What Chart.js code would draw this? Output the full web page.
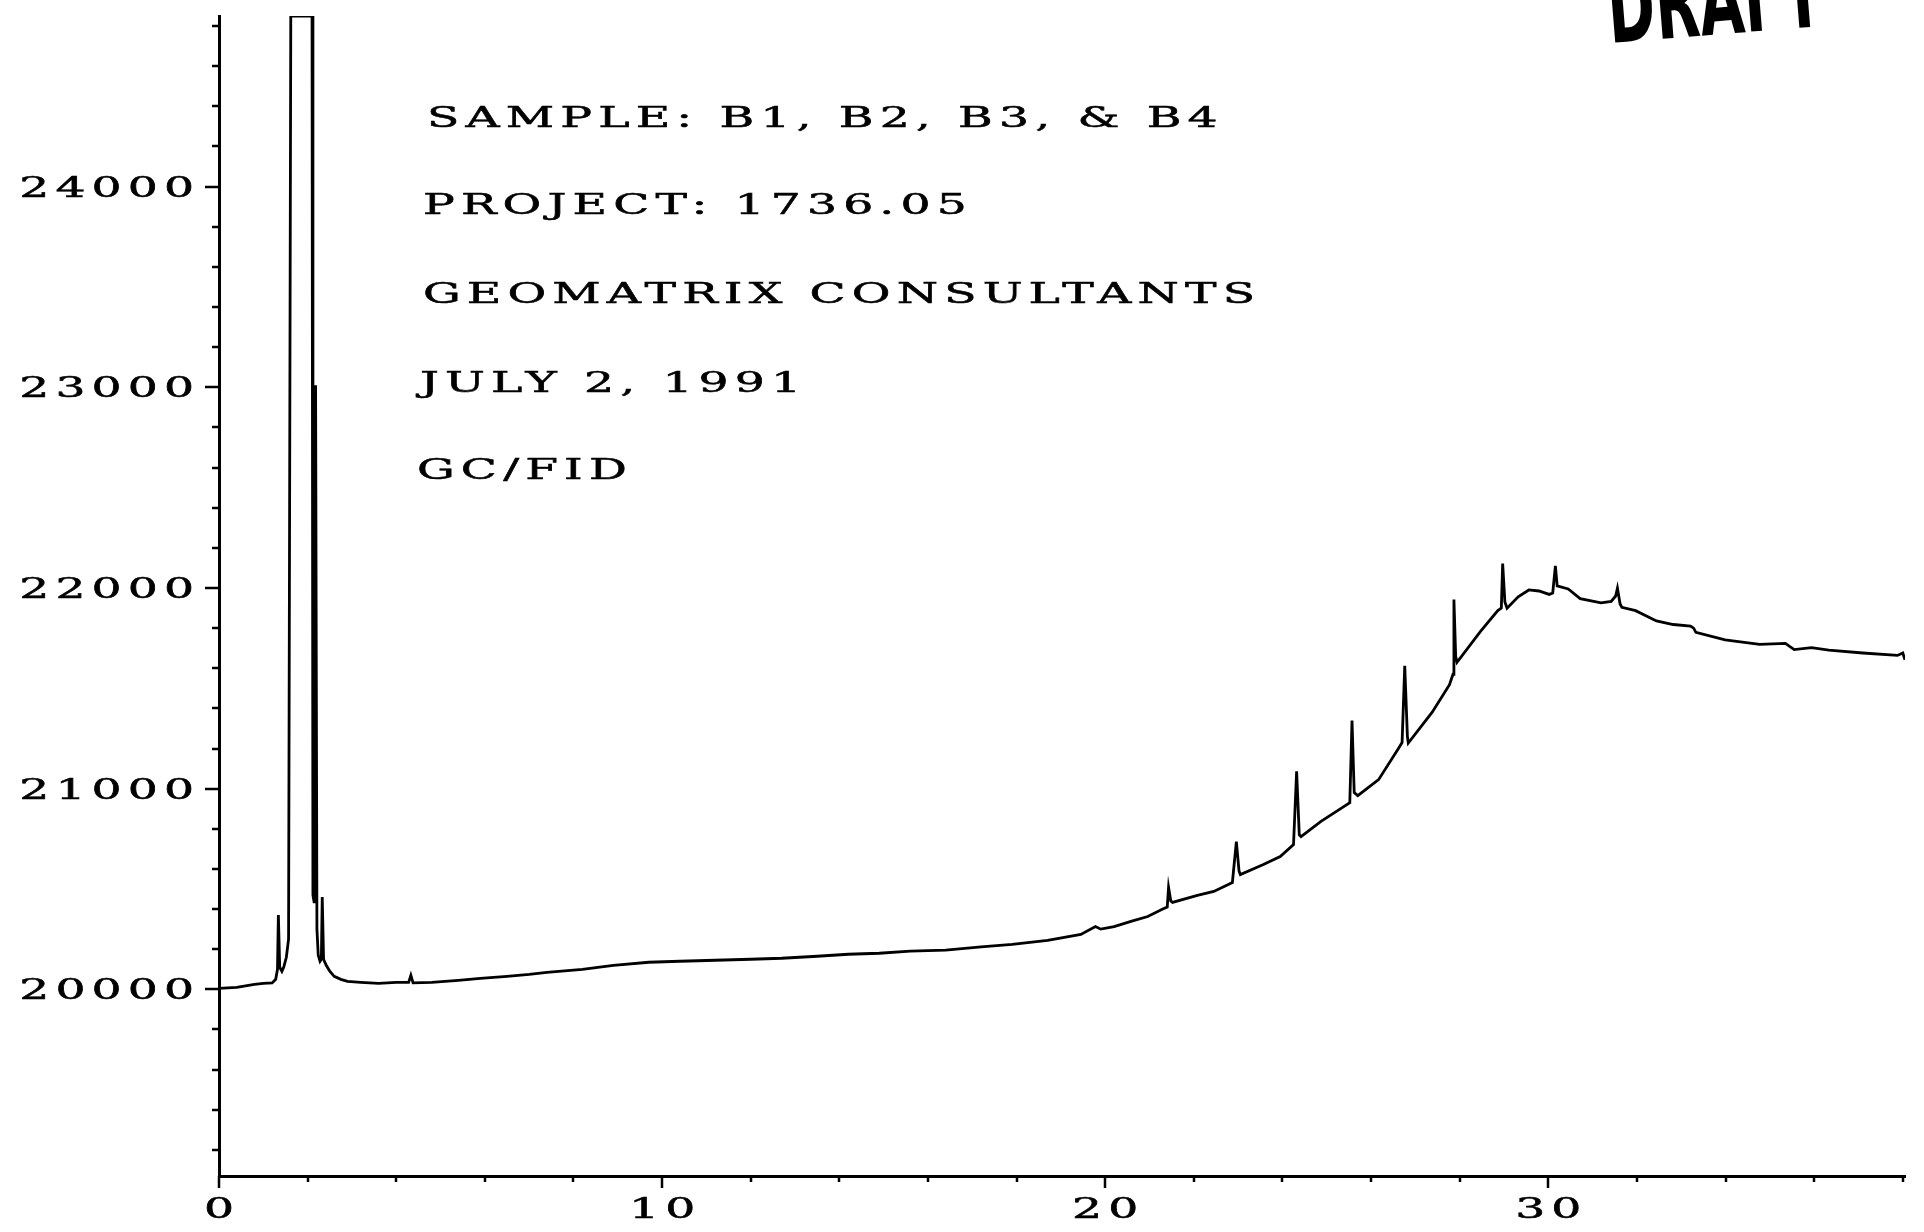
<!DOCTYPE html>
<html>
<head>
    <title>GC/FID chromatogram</title>
    <script src="https://cdn.jsdelivr.net/npm/chart.js"></script>
    <style>
        html, body { margin: 0; padding: 0; background: white; }
        #wrap { width: 1924px; height: 1232px; }
    </style>
</head>
<body>
    <div id="wrap"><canvas id="chart" width="1924" height="1232"></canvas></div>

    <script>
        // retention time (min) and detector signal
        const times = [
            0.00, 0.40, 0.80, 1.00, 1.20, 1.28, 1.32, 1.34, 1.37, 1.42, 1.46, 1.52, 1.57, 1.62,
            2.10, 2.12, 2.15, 2.18, 2.21, 2.24, 2.28, 2.31, 2.33, 2.36, 2.42, 2.50, 2.60, 2.75,
            2.90, 3.20, 3.60, 4.00, 4.28, 4.33, 4.38, 4.80, 5.40, 5.90, 6.50, 7.00, 7.40, 8.20,
            8.90, 9.70, 10.40, 11.20, 12.00, 12.70, 13.50, 14.20, 14.90, 15.60, 16.40, 17.20,
            17.90, 18.70, 19.45, 19.78, 19.90, 20.20, 20.60, 20.96, 21.30, 21.40, 21.43, 21.48,
            21.52, 22.08, 22.45, 22.87, 22.96, 23.02, 23.05, 23.57, 23.95, 24.25, 24.32, 24.38,
            24.42, 24.87, 25.34, 25.52, 25.57, 25.62, 25.70, 26.17, 26.60, 26.70, 26.76, 26.82,
            26.84, 27.38, 27.77, 27.85, 27.87, 27.91, 27.94, 28.47, 28.86, 28.94, 28.97, 29.02,
            29.07, 29.32, 29.56, 29.79, 30.02, 30.10, 30.16, 30.20, 30.45, 30.72, 31.19, 31.42,
            31.52, 31.56, 31.62, 31.66, 31.97, 32.44, 32.82, 33.21, 33.28, 33.33, 33.99, 34.77,
            35.35, 35.55, 35.94, 36.33, 37.10, 37.88, 38.00, 38.05
        ];
        const signal = [
            20005, 20010, 20025, 20030, 20032, 20050, 20100, 20370, 20110, 20090, 20110, 20160, 20250, 24850,
            24850, 20470, 20430, 23010, 20300, 20170, 20140, 20150, 20460, 20150, 20120, 20090, 20065, 20050,
            20040, 20035, 20030, 20035, 20035, 20070, 20032, 20035, 20045, 20055, 20065, 20075, 20085, 20100,
            20120, 20135, 20140, 20145, 20150, 20155, 20165, 20175, 20180, 20190, 20195, 20212,
            20224, 20244, 20274, 20313, 20300, 20313, 20340, 20363, 20400, 20410, 20508, 20440,
            20433, 20468, 20488, 20532, 20736, 20590, 20572, 20622, 20662, 20721, 21086, 20770,
            20761, 20837, 20904, 20930, 21340, 20980, 20965, 21045, 21194, 21230, 21612, 21260,
            21227, 21381, 21518, 21570, 21942, 21660, 21630, 21784, 21887, 21900, 22122, 21930,
            21899, 21956, 21990, 21985, 21968, 21975, 22110, 22010, 21995, 21947, 21926, 21933,
            21960, 21999, 21920, 21904, 21887, 21836, 21818, 21810, 21800, 21779, 21741, 21719,
            21724, 21693, 21703, 21690, 21676, 21664, 21676, 21642
        ];

        const yTickValues = [20000, 21000, 22000, 23000, 24000];
        const yTickLabels = ['20000', '21000', '22000', '23000', '24000'];
        const xTickValues = [0, 10, 20, 30];
        const xTickLabels = ['0', '10', '20', '30'];

        const notes = [
            'SAMPLE: B1, B2, B3, & B4',
            'PROJECT: 1736.05',
            'GEOMATRIX CONSULTANTS',
            'JULY 2, 1991',
            'GC/FID'
        ];

        // extended printer-style lettering
        const SX = 1.75;
        const SPACING = 3.5;
        function wideText(ctx, str, x, y, align) {
            ctx.save();
            ctx.font = '27px "DejaVu Serif"';
            ctx.letterSpacing = SPACING + 'px';
            ctx.textAlign = 'left';
            ctx.textBaseline = 'alphabetic';
            const w = (ctx.measureText(str).width - SPACING) * SX;
            let x0 = x;
            if (align === 'right') x0 = x - w;
            if (align === 'center') x0 = x - w / 2;
            ctx.translate(x0, y + 10);
            ctx.scale(SX, 1);
            ctx.fillStyle = '#000';
            ctx.strokeStyle = '#000';
            ctx.lineWidth = 0.5;
            ctx.fillText(str, 0, 0);
            ctx.strokeText(str, 0, 0);
            ctx.restore();
        }

        const axisMarks = {
            id: 'axisMarks',
            afterDraw(chart) {
                const ctx = chart.ctx;
                const xs = chart.scales.x, ys = chart.scales.y;
                const area = chart.chartArea;
                ctx.save();
                ctx.strokeStyle = '#000';
                ctx.lineWidth = 2.5;
                ctx.beginPath();
                for (let v = 19200; v <= 24800; v += 200) {
                    const py = Math.round(ys.getPixelForValue(v));
                    const len = v % 1000 === 0 ? 14 : 7;
                    ctx.moveTo(area.left - len, py);
                    ctx.lineTo(area.left, py);
                }
                for (let v = 0; v <= 38; v += 2) {
                    const px = Math.round(xs.getPixelForValue(v));
                    const len = v % 10 === 0 ? 12 : 6;
                    ctx.moveTo(px, area.bottom);
                    ctx.lineTo(px, area.bottom + len);
                }
                ctx.stroke();
                ctx.restore();

                yTickValues.forEach((v, i) => {
                    wideText(ctx, yTickLabels[i], area.left - 25, ys.getPixelForValue(v), 'right');
                });
                xTickValues.forEach((v, i) => {
                    wideText(ctx, xTickLabels[i], xs.getPixelForValue(v), 1208, 'center');
                });

                // header block
                const noteX = [427, 423, 423, 420, 417];
                const noteY = [117, 204, 293, 382, 469];
                notes.forEach((t, i) => wideText(ctx, t, noteX[i], noteY[i], 'left'));

                // stamp, cut by the top edge
                ctx.save();
                ctx.font = 'bold 100px "DejaVu Sans Condensed", "DejaVu Sans", sans-serif';
                ctx.textBaseline = 'alphabetic';
                const dw = ctx.measureText('DRAFT').width;
                ctx.translate(1610, 43);
                ctx.rotate(-0.08);
                ctx.scale(215 / dw, 1);
                ctx.fillStyle = '#000';
                ctx.fillText('DRAFT', 0, 0);
                ctx.restore();
            }
        };

        new Chart(document.getElementById('chart').getContext('2d'), {
            type: 'line',
            data: {
                datasets: [{
                    data: times.map((t, i) => ({ x: t, y: signal[i] })),
                    borderColor: '#000',
                    borderWidth: 2.8,
                    pointRadius: 0,
                    tension: 0,
                    fill: false
                }]
            },
            options: {
                responsive: false,
                animation: false,
                devicePixelRatio: 1,
                layout: { padding: { top: 16, right: 19, left: 0, bottom: 0 } },
                plugins: { legend: { display: false }, tooltip: { enabled: false } },
                scales: {
                    x: {
                        type: 'linear',
                        min: 0,
                        max: 38.05,
                        grid: { display: false },
                        ticks: { display: false },
                        border: { display: true, color: '#000', width: 3 },
                        afterFit: s => { s.height = 56; }
                    },
                    y: {
                        min: 19070,
                        max: 24850,
                        grid: { display: false },
                        ticks: { display: false },
                        border: { display: true, color: '#000', width: 3 },
                        afterFit: s => { s.width = 219; }
                    }
                }
            },
            plugins: [axisMarks]
        });
    </script>
</body>
</html>
